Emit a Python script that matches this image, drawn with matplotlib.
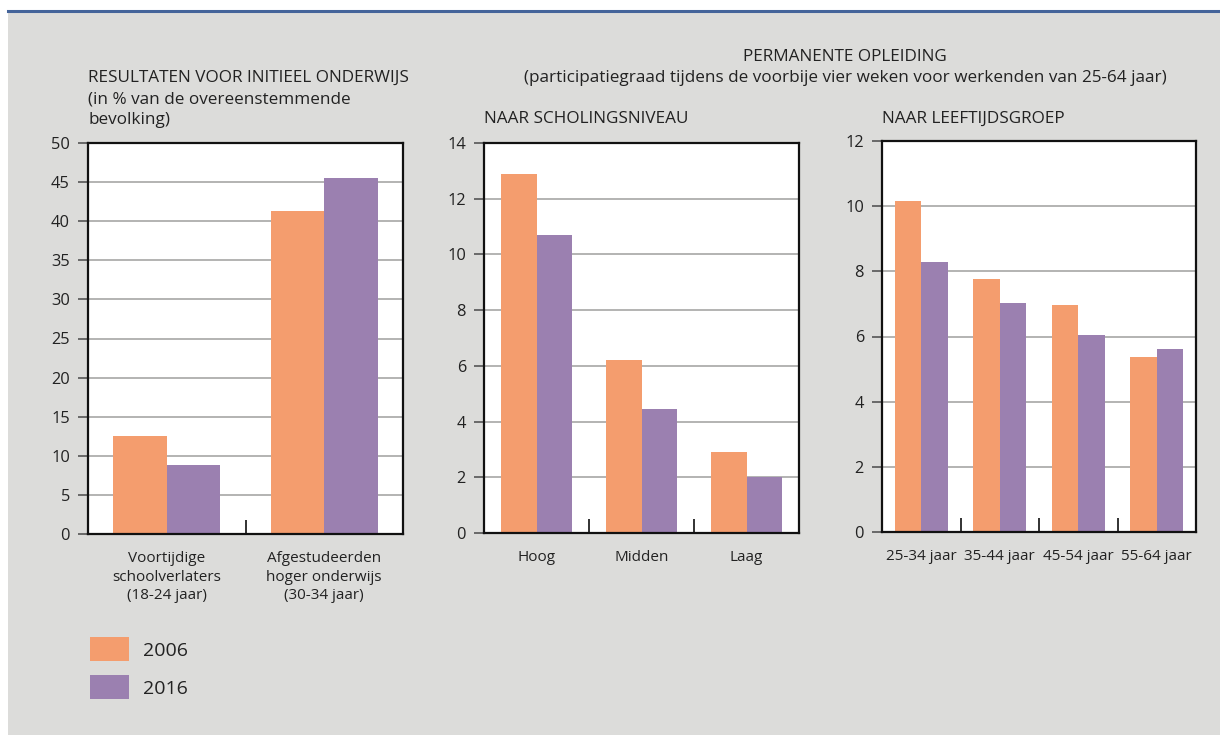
import numpy as np
import matplotlib.pyplot as plt
from matplotlib.patches import Rectangle
from matplotlib.lines import Line2D

plt.rcParams['font.family'] = ['Open Sans', 'DejaVu Sans']

# data
years = ["2006", "2016"]

cat1 = ["Voortijdige\nschoolverlaters\n(18-24 jaar)", "Afgestudeerden\nhoger onderwijs\n(30-34 jaar)"]
v1_2006 = [12.5, 41.3]
v1_2016 = [8.8, 45.5]

cat2 = ["Hoog", "Midden", "Laag"]
v2_2006 = [12.9, 6.2, 2.9]
v2_2016 = [10.7, 4.45, 2.0]

cat3 = ["25-34 jaar", "35-44 jaar", "45-54 jaar", "55-64 jaar"]
v3_2006 = [10.15, 7.76, 6.96, 5.36]
v3_2016 = [8.3, 7.02, 6.04, 5.61]

C_ORANGE = "#F49D6E"
C_PURPLE = "#9B80B0"
BG = "#DCDCDA"
TXT = "#222222"
FS = 12.3
TFS = 11.0

W, H = 1220, 735
fig = plt.figure(figsize=(W / 100, H / 100), dpi=100)
fig.patch.set_facecolor("white")

# grey panel and top rule
fig.patches.append(Rectangle((8 / W, 0), 1 - 8 / W, (H - 12) / H, transform=fig.transFigure,
                             facecolor=BG, edgecolor="none", zorder=-5))
fig.lines.append(Line2D([8 / W, 1], [1 - 11 / H, 1 - 11 / H], transform=fig.transFigure,
                        color="#44649a", lw=2.2, zorder=-4))


def px_axes(l, r, t, b):
    return fig.add_axes([l / W, 1 - b / H, (r - l) / W, (b - t) / H])


def draw_panel(ax, cats, a, b, ymax, step):
    n = len(cats)
    x = np.arange(n)
    w = 0.34
    ax.set_axisbelow(True)
    ax.bar(x - w / 2, a, w, color=C_ORANGE, zorder=2)
    ax.bar(x + w / 2, b, w, color=C_PURPLE, zorder=2)
    ax.set_xlim(-0.5, n - 0.5)
    ax.set_ylim(0, ymax)
    ax.set_yticks(np.arange(0, ymax + step / 2, step))
    ax.yaxis.grid(True, color="#aeaeac", lw=1.3)
    ax.set_xticks(x)
    ax.set_xticklabels(cats, fontsize=TFS, color=TXT, linespacing=1.35)
    ax.set_xticks(np.arange(0.5, n - 0.5, 1), minor=True)
    ax.tick_params(axis="x", which="major", length=0, pad=12)
    ax.tick_params(axis="x", which="minor", direction="in", length=10, width=1.3, color="#222")
    ax.tick_params(axis="y", direction="out", length=7, width=1.2, color="#555",
                   labelsize=11.8, labelcolor=TXT, pad=6)
    ax.set_facecolor("white")
    for s in ax.spines.values():
        s.set_linewidth(1.6)
        s.set_color("#111")


ax1 = px_axes(88, 403, 143, 534)
draw_panel(ax1, cat1, v1_2006, v1_2016, 50, 5)

ax2 = px_axes(484, 799, 143, 533)
draw_panel(ax2, cat2, v2_2006, v2_2016, 14, 2)

ax3 = px_axes(882, 1196, 141, 532)
draw_panel(ax3, cat3, v3_2006, v3_2016, 12, 2)


# titles
def ftext(x, y, s, size=FS, **kw):
    fig.text(x / W, 1 - y / H, s, fontsize=size, color=TXT, va="center", **kw)


ftext(88, 78, "RESULTATEN VOOR INITIEEL ONDERWIJS", ha="left")
ftext(88, 99, "(in % van de overeenstemmende", ha="left")
ftext(88, 120, "bevolking)", ha="left")

ftext(845, 57, "PERMANENTE OPLEIDING", ha="center")
ftext(845, 78, "(participatiegraad tijdens de voorbije vier weken voor werkenden van 25-64 jaar)", ha="center")

ftext(484, 119, "NAAR SCHOLINGSNIVEAU", ha="left")
ftext(882, 119, "NAAR LEEFTIJDSGROEP", ha="left")

# legend
for yc, col, lab in [(649, C_ORANGE, years[0]), (687, C_PURPLE, years[1])]:
    fig.patches.append(Rectangle((90 / W, 1 - (yc + 12) / H), 39 / W, 24 / H,
                                 transform=fig.transFigure, facecolor=col, edgecolor="none"))
    ftext(143, yc + 2, lab, size=14, ha="left")

fig.savefig("out.png", dpi=100, facecolor=fig.get_facecolor())
